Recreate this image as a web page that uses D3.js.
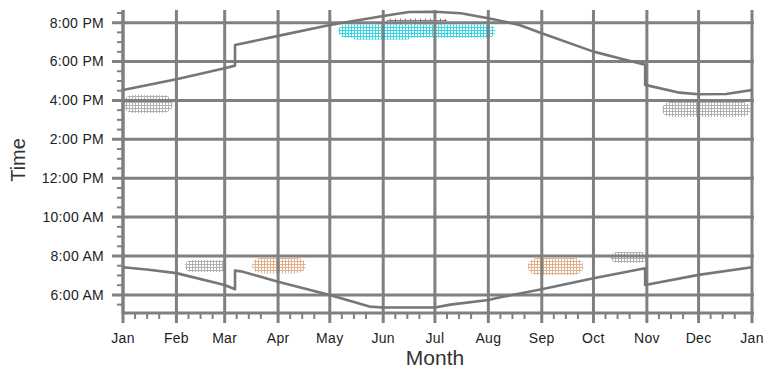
<!DOCTYPE html>
<html>
<head>
<meta charset="utf-8">
<script src="https://cdn.jsdelivr.net/npm/d3@7"></script>
<style>
  html, body { margin: 0; padding: 0; background: #fff; }
  svg { display: block; font-family: "Liberation Sans", Arial, sans-serif; }
</style>
</head>
<body>
<svg id="chart" width="769" height="369"></svg>
<script>
// ---- data (day of year 2009, hour of day) ----
const sunsetDays  = [0, 31, 59, 65, 65, 90, 120, 151, 166, 181, 196, 212, 230, 243, 273, 292, 303, 303, 323, 334, 350, 365];
const sunsetHours = [16.54, 17.09, 17.66, 17.79, 18.85, 19.32, 19.88, 20.34, 20.55, 20.56, 20.48, 20.23, 19.88, 19.45, 18.51, 18.08, 17.83, 16.80, 16.40, 16.32, 16.33, 16.54];

const sunriseDays  = [0, 15, 31, 59, 65, 65, 69, 90, 120, 143, 151, 181, 190, 212, 219, 243, 273, 303, 303, 334, 365];
const sunriseHours = [7.42, 7.29, 7.12, 6.51, 6.29, 7.25, 7.20, 6.68, 6.00, 5.40, 5.35, 5.35, 5.50, 5.74, 5.88, 6.29, 6.86, 7.37, 6.51, 7.03, 7.42];

// clusters of observations (drawn as textured patches)
const blobDays      = [14.5, 338.5, 170.5, 150, 170.5, 48, 90.5, 251, 293.5];
const blobHours     = [15.82, 15.54, 19.56, 19.30, 20.06, 7.49, 7.51, 7.46, 7.93];
const blobHalfDays  = [14.5, 25.5, 45.5, 17, 17.5, 12, 15.5, 16, 10.5];
const blobHalfHours = [0.46, 0.39, 0.33, 0.17, 0.15, 0.31, 0.39, 0.44, 0.28];
const blobKinds     = ["gray", "gray", "cyan", "cyan", "dark", "gray", "tan", "tan", "gray"];

const monthLabels = ["Jan","Feb","Mar","Apr","May","Jun","Jul","Aug","Sep","Oct","Nov","Dec","Jan"];
const yMajorHours = [6, 8, 10, 12, 14, 16, 18, 20];

// ---- setup ----
const svg = d3.select("#chart");
const t0 = Date.UTC(2009, 0, 1);
const dayToDate = d => new Date(t0 + d * 86400000);

const x = d3.scaleUtc().domain([dayToDate(0), dayToDate(365)]).range([123, 752]);
const y = d3.scaleLinear().domain([5.07, 20.65]).range([313, 10]);

const gridColor = "#808080";
const lineColor = "#767676";

// patterns
const defs = svg.append("defs");
const patterns = {
  gray: { color: "#b0b0b0", size: 3 },
  tan:  { color: "#e2b08c", size: 3 },
  cyan: { color: "#2fd8e4", size: 3 },
  dark: { color: "#555555", size: 5 }
};
Object.entries(patterns).forEach(([k, p]) => {
  const pat = defs.append("pattern").attr("id", "pat-" + k)
    .attr("patternUnits", "userSpaceOnUse")
    .attr("width", p.size).attr("height", p.size);
  pat.append("rect").attr("x", 0).attr("y", 0).attr("width", p.size).attr("height", 1).attr("fill", p.color);
  pat.append("rect").attr("x", 0).attr("y", 0).attr("width", 1).attr("height", p.size).attr("fill", p.color);
});

// blobs
const blobs = blobDays.map((d, i) => ({
  d, h: blobHours[i], hd: blobHalfDays[i], hh: blobHalfHours[i], k: blobKinds[i]
}));
svg.append("g").selectAll("rect").data(blobs).join("rect")
  .attr("x", b => x(dayToDate(b.d - b.hd)))
  .attr("y", b => y(b.h + b.hh))
  .attr("width", b => x(dayToDate(b.d + b.hd)) - x(dayToDate(b.d - b.hd)))
  .attr("height", b => y(b.h - b.hh) - y(b.h + b.hh))
  .attr("rx", b => (y(b.h - b.hh) - y(b.h)) * 1.2)
  .attr("ry", b => (y(b.h - b.hh) - y(b.h)) * 0.9)
  .attr("fill", b => "url(#pat-" + b.k + ")")
  .attr("opacity", b => b.k === "dark" ? 0.75 : 1);

// horizontal gridlines (with major ticks)
svg.append("g").selectAll("line").data(yMajorHours).join("line")
  .attr("x1", 112).attr("x2", 754)
  .attr("y1", d => y(d)).attr("y2", d => y(d))
  .attr("stroke", gridColor).attr("stroke-width", 3);

// vertical gridlines at month starts
const monthDates = d3.utcMonth.range(dayToDate(0), dayToDate(366));
svg.append("g").selectAll("line").data(monthDates).join("line")
  .attr("x1", d => x(d)).attr("x2", d => x(d))
  .attr("y1", 10).attr("y2", 323)
  .attr("stroke", gridColor).attr("stroke-width", 3);

// y minor ticks
const yMinor = d3.range(5.5, 20.51, 0.5).filter(h => !yMajorHours.includes(h));
svg.append("g").selectAll("line").data(yMinor).join("line")
  .attr("x1", 117).attr("x2", 123)
  .attr("y1", d => y(d)).attr("y2", d => y(d))
  .attr("stroke", gridColor).attr("stroke-width", 2);

// x minor ticks (weekly)
const weekDates = [];
monthDates.slice(0, 12).forEach(m => [7, 14, 21].forEach(o => weekDates.push(d3.utcDay.offset(m, o))));
svg.append("g").selectAll("line").data(weekDates).join("line")
  .attr("x1", d => x(d)).attr("x2", d => x(d))
  .attr("y1", 313).attr("y2", 319)
  .attr("stroke", gridColor).attr("stroke-width", 2);

// axis lines
svg.append("line").attr("x1", 123).attr("x2", 123).attr("y1", 10).attr("y2", 314)
  .attr("stroke", gridColor).attr("stroke-width", 3);
svg.append("line").attr("x1", 122).attr("x2", 754).attr("y1", 313).attr("y2", 313)
  .attr("stroke", gridColor).attr("stroke-width", 3);

// data lines
const line = d3.line().x(p => x(dayToDate(p[0]))).y(p => y(p[1]));
svg.append("path")
  .attr("d", line(sunsetDays.map((d, i) => [d, sunsetHours[i]])))
  .attr("fill", "none").attr("stroke", lineColor).attr("stroke-width", 2.6)
  .attr("stroke-linejoin", "round");
svg.append("path")
  .attr("d", line(sunriseDays.map((d, i) => [d, sunriseHours[i]])))
  .attr("fill", "none").attr("stroke", lineColor).attr("stroke-width", 2.6)
  .attr("stroke-linejoin", "round");

// y labels
const fmtHour = h => {
  const hr = h % 12 === 0 ? 12 : h % 12;
  return hr + ":00 " + (h >= 12 ? "PM" : "AM");
};
svg.append("g").selectAll("text").data(yMajorHours).join("text")
  .attr("x", 104).attr("y", d => y(d))
  .attr("dy", "0.35em")
  .attr("text-anchor", "end")
  .attr("font-size", 14).attr("letter-spacing", "0.3px")
  .attr("fill", "#222")
  .text(fmtHour);

// x labels
svg.append("g").selectAll("text").data(monthDates).join("text")
  .attr("x", d => x(d)).attr("y", 343)
  .attr("text-anchor", "middle")
  .attr("font-size", 14).attr("letter-spacing", "0.3px")
  .attr("fill", "#222")
  .text((d, i) => monthLabels[i]);

// axis titles
svg.append("text").attr("x", 435).attr("y", 365)
  .attr("text-anchor", "middle").attr("font-size", 21).attr("fill", "#333")
  .text("Month");
svg.append("text").attr("transform", "translate(25,160) rotate(-90)")
  .attr("text-anchor", "middle").attr("font-size", 20).attr("fill", "#333")
  .text("Time");
</script>
</body>
</html>
